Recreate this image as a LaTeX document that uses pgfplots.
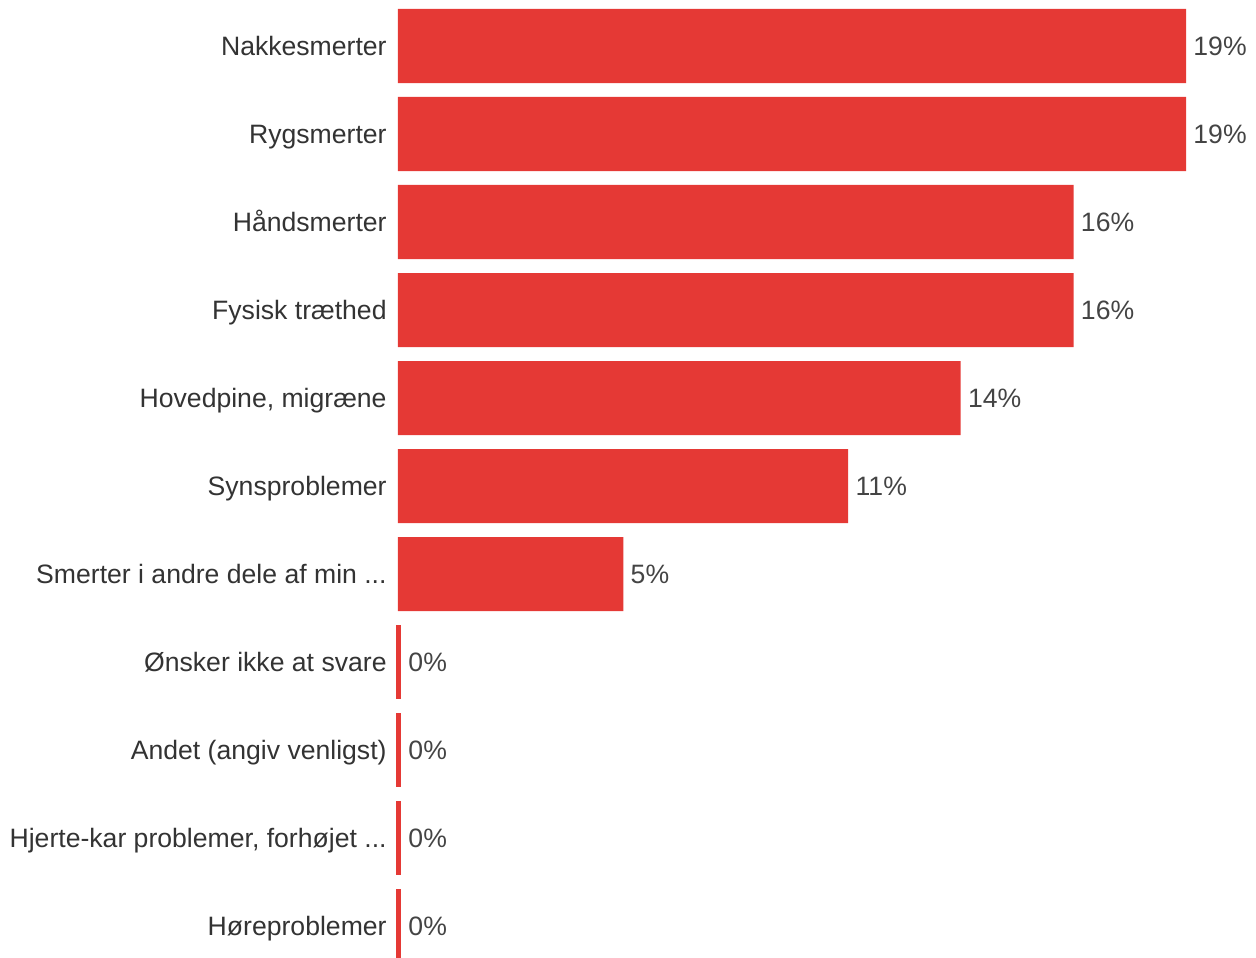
\documentclass[border=0pt]{standalone}
\usepackage{pgfplots}
\pgfplotsset{compat=1.18}
\usepackage{fontspec}
\setmainfont{Liberation Sans}

\definecolor{barred}{HTML}{E53935}
\definecolor{labelgray}{HTML}{333333}
\definecolor{valgray}{HTML}{444444}
\newcommand\trunc{...}

% share of answers (7,7,6,6,5,4,2 of 37)
\pgfplotstableread{
y val
0 18.92
1 18.92
2 16.22
3 16.22
4 13.51
5 10.81
6 5.41
}\nonzero
\pgfplotstableread{
y val
7 0
8 0
9 0
10 0
}\zero

\begin{document}
\begin{tikzpicture}
\useasboundingbox (-199pt,0pt) rectangle (429pt,478.5pt);
\begin{axis}[
    scale only axis,
    width=429pt, height=478.5pt,
    at={(0,0)}, anchor=south west,
    xmin=0, xmax=20.6,
    ymin=-0.5227, ymax=10.352,
    y dir=reverse,
    axis line style={draw=none},
    major tick length=0pt,
    xtick=\empty,
    ytick={0,1,2,3,4,5,6,7,8,9,10},
    yticklabels={{Nakkesmerter}, {Rygsmerter}, {Håndsmerter}, {Fysisk træthed},
        {Hovedpine, migræne}, {Synsproblemer}, {Smerter i andre dele af min \trunc},
        {Ønsker ikke at svare}, {Andet (angiv venligst)},
        {Hjerte-kar problemer, forhøjet \trunc}, {Høreproblemer}},
    yticklabel style={font=\fontsize{13.3pt}{15pt}\selectfont, text=labelgray,
        anchor=east, inner sep=0pt, xshift=-5.5pt, text height=9.5pt, text depth=0pt},
    nodes near coords={\pgfmathprintnumber[fixed,precision=0,assume math mode=true]{\pgfplotspointmeta}\%},
    point meta=x,
    nodes near coords style={font=\fontsize{13.3pt}{15pt}\selectfont, text=valgray,
        anchor=west, inner sep=0pt, xshift=3.5pt, text height=9.5pt, text depth=0pt},
]
\addplot[xbar, bar shift=0pt, fill=barred, draw=none, bar width=0.841]
    table[x=val, y=y] {\nonzero};
\addplot[only marks, mark=|, mark size=18.5pt, mark options={draw=barred, line width=2.5pt, xshift=0.5pt}]
    table[x=val, y=y] {\zero};
\end{axis}
\end{tikzpicture}
\end{document}
